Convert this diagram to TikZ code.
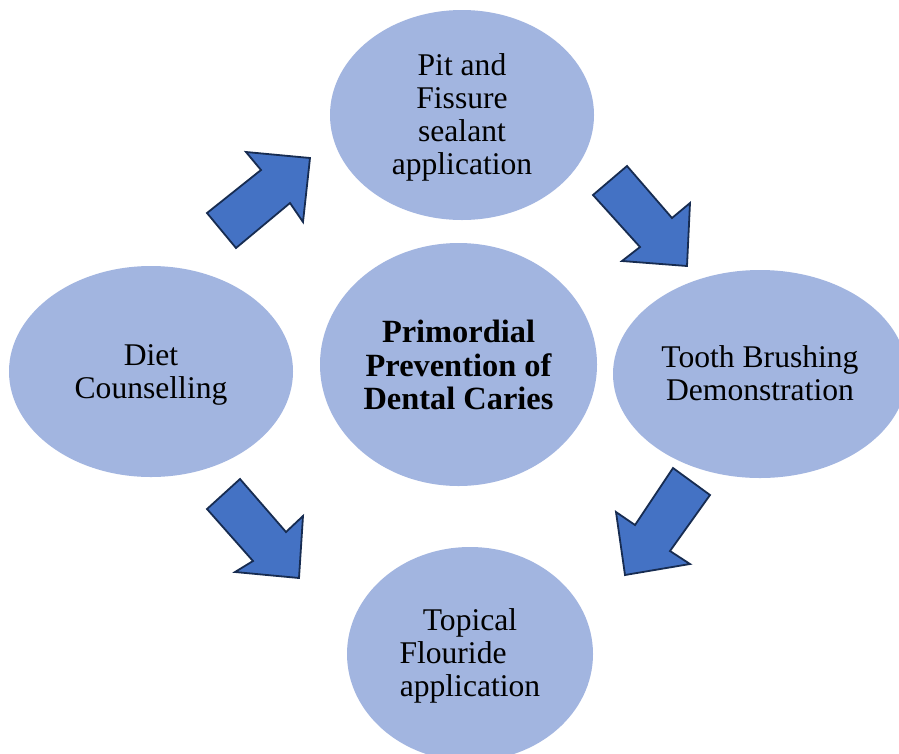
\documentclass[tikz,border=0pt]{standalone}
\usepackage{fontspec}
\setmainfont{Liberation Serif}
\usetikzlibrary{shapes.geometric}
\definecolor{ellfill}{HTML}{A2B5E0}
\definecolor{arrfill}{HTML}{4472C4}
\definecolor{arrline}{HTML}{172C51}
\newcommand\bubbletext[2]{\raisebox{#1}[\height][\depth]{\begin{tabular}{@{}c@{}}#2\end{tabular}}}
\tikzset{
  bubble/.style={ellipse, fill=ellfill, draw=none, inner sep=0pt,
    font=\fontsize{31.6}{33}\selectfont},
  boldbubble/.style={bubble, font=\fontsize{32.4}{33.5}\selectfont\bfseries},
  blockarrow/.style={fill=arrfill, draw=arrline, line width=1.8pt, line join=miter}
}
\begin{document}
\begin{tikzpicture}[x=1pt,y=-1pt]
\useasboundingbox (0,0) rectangle (899,753);
\clip (0,0) rectangle (899,753);
\fill[white] (0,0) rectangle (899,753);
% ellipses
\node[bubble, minimum width=264pt, minimum height=210pt] (top) at (462,115)
  {\bubbletext{-3pt}{Pit and\\Fissure\\sealant\\application}};
\node[bubble, minimum width=284pt, minimum height=211pt] (left) at (151,371.5)
  {\bubbletext{-3.5pt}{Diet\\Counselling}};
\node[boldbubble, minimum width=277pt, minimum height=243pt] (center) at (458.5,364.5)
  {\bubbletext{-5pt}{Primordial\\Prevention of\\Dental Caries}};
\node[bubble, minimum width=294pt, minimum height=208pt] (right) at (760,374)
  {\bubbletext{-3.5pt}{Tooth Brushing\\Demonstration}};
\node[bubble, minimum width=246pt, minimum height=214pt] (bottom) at (470,654)
  {\bubbletext{-2.5pt}{Topical\\\makebox[141pt][l]{Flouride}\\application}};
% block arrows
\draw[blockarrow] (207,213) -- (261,170) -- (246,152) -- (310,158) -- (303,222) -- (290,203) -- (236,248) -- cycle;
\draw[blockarrow] (627,166) -- (672,218) -- (690,203) -- (687,266) -- (622,261) -- (640,247) -- (593,195) -- cycle;
\draw[blockarrow] (240,479) -- (286,532) -- (303,516) -- (299,578) -- (235,572) -- (253,561) -- (207,509) -- cycle;
\draw[blockarrow] (673,468) -- (710,495) -- (670,551) -- (690,564) -- (625,575) -- (616,512) -- (635,525) -- cycle;
\end{tikzpicture}
\end{document}
